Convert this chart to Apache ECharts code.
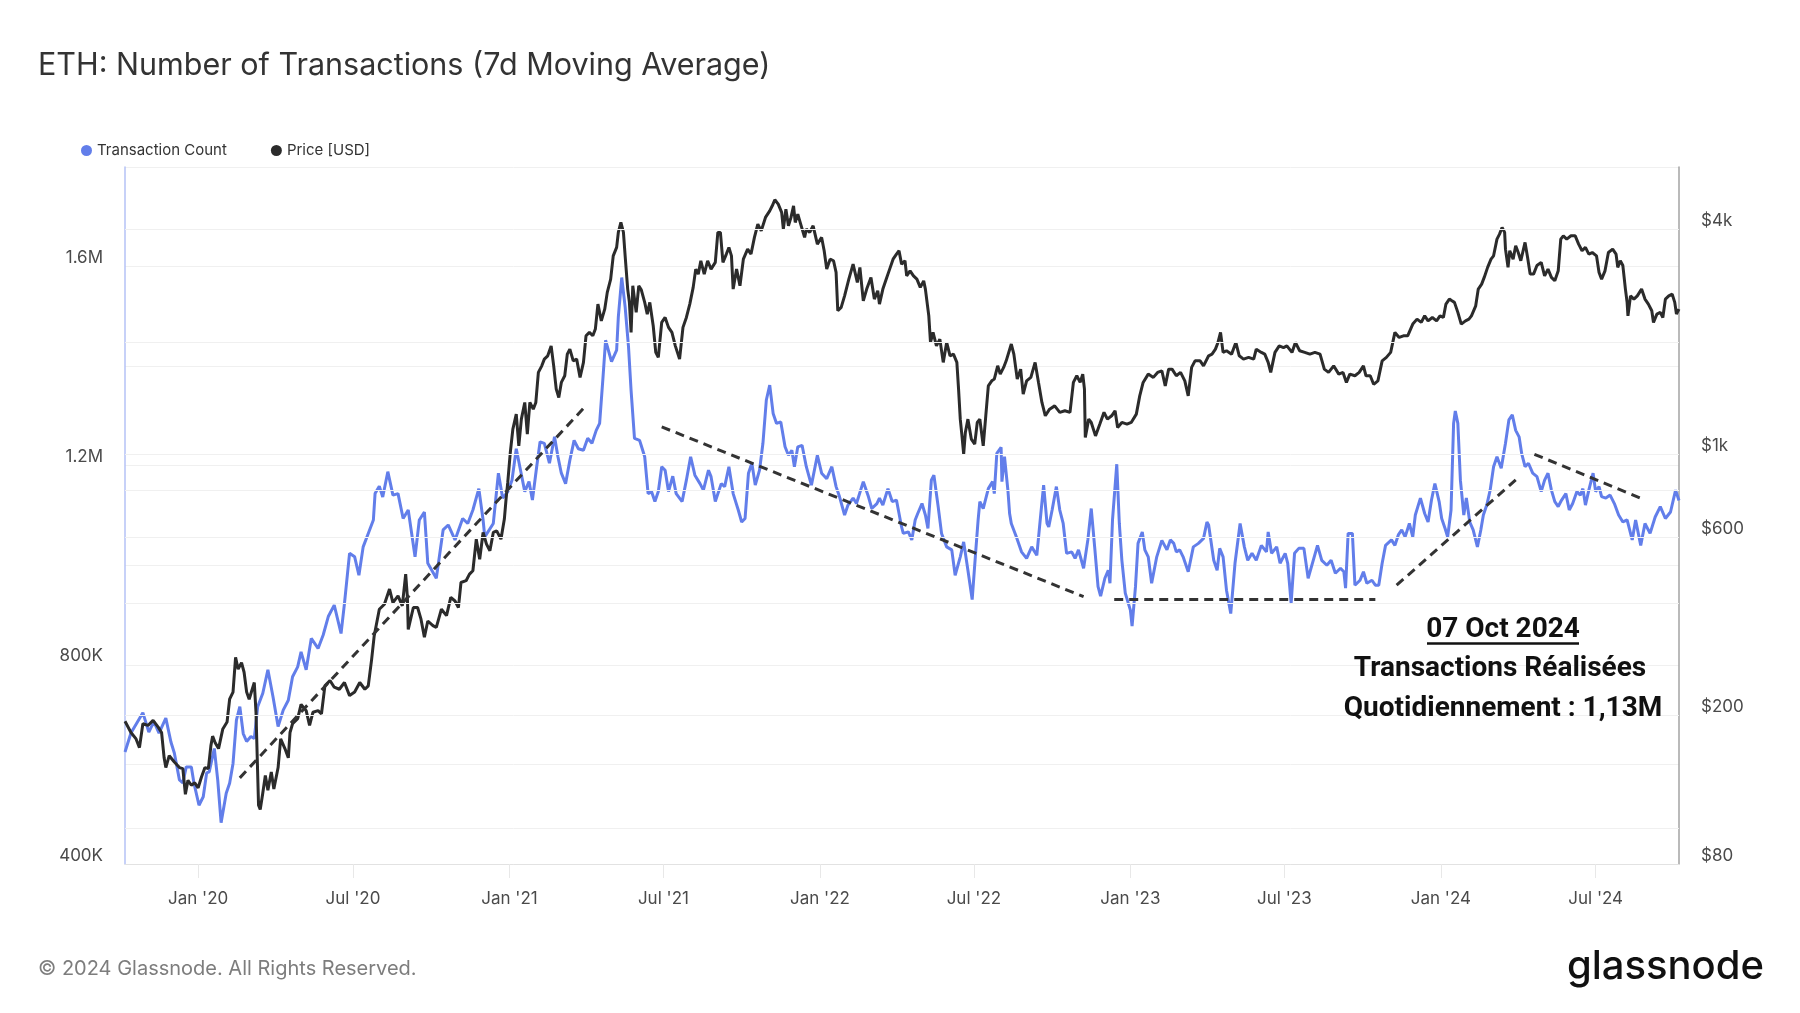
<!DOCTYPE html>
<html><head><meta charset="utf-8">
<script src="https://cdn.jsdelivr.net/npm/echarts@6/dist/echarts.min.js"></script>
<style>html,body{margin:0;padding:0;background:#fff}#main{width:1800px;height:1013px}</style>
</head><body><div id="main"></div>
<script>
// ---- Data ----
const txCount = [
['2019-10-07',625000],['2019-10-14',663000],['2019-10-28',704000],['2019-11-04',665000],['2019-11-10',686000],['2019-11-16',663000],['2019-11-24',693000],['2019-11-30',645000],['2019-12-04',623000],['2019-12-10',569000],['2019-12-14',563000],['2019-12-18',595000],['2019-12-24',595000],['2019-12-27',563000],
['2020-01-02',518000],['2020-01-07',535000],['2020-01-11',583000],['2020-01-14',585000],['2020-01-20',632000],['2020-01-24',569000],['2020-01-28',483000],['2020-02-03',542000],['2020-02-07',562000],['2020-02-11',602000],['2020-02-15',689000],['2020-02-19',716000],['2020-02-23',662000],['2020-02-27',646000],['2020-03-03',656000],['2020-03-07',652000],['2020-03-11',716000],['2020-03-17',743000],['2020-03-23',790000],['2020-03-29',736000],['2020-04-04',676000],['2020-04-10',709000],['2020-04-16',729000],['2020-04-21',776000],['2020-04-27',796000],['2020-05-01',826000],['2020-05-07',790000],['2020-05-13',853000],['2020-05-21',833000],['2020-05-27',860000],['2020-06-02',897000],['2020-06-09',920000],['2020-06-17',863000],['2020-06-21',923000],['2020-06-27',1024000],['2020-07-03',1017000],['2020-07-08',980000],['2020-07-13',1037000],['2020-07-19',1064000],['2020-07-25',1091000],['2020-07-27',1144000],['2020-08-01',1159000],['2020-08-05',1137000],['2020-08-11',1188000],['2020-08-17',1141000],['2020-08-23',1144000],['2020-08-29',1094000],['2020-09-04',1111000],['2020-09-12',1017000],['2020-09-17',1091000],['2020-09-23',1107000],['2020-09-27',1004000],['2020-10-07',974000],['2020-10-15',1071000],['2020-10-21',1081000],['2020-10-29',1051000],['2020-11-07',1094000],['2020-11-13',1084000],['2020-11-19',1111000],['2020-11-26',1154000],['2020-12-01',1091000],['2020-12-03',1057000],['2020-12-13',1084000],['2020-12-19',1185000],['2020-12-24',1135000],['2020-12-30',1148000],
['2021-01-04',1171000],['2021-01-09',1234000],['2021-01-14',1191000],['2021-01-19',1148000],['2021-01-24',1168000],['2021-01-28',1131000],['2021-02-02',1198000],['2021-02-06',1248000],['2021-02-11',1245000],['2021-02-17',1205000],['2021-02-23',1258000],['2021-02-27',1218000],['2021-03-03',1185000],['2021-03-08',1164000],['2021-03-13',1211000],['2021-03-18',1251000],['2021-03-23',1234000],['2021-03-29',1231000],['2021-04-03',1255000],['2021-04-08',1245000],['2021-04-13',1271000],['2021-04-17',1285000],['2021-04-21',1378000],['2021-04-24',1452000],['2021-05-01',1409000],['2021-05-07',1432000],['2021-05-09',1499000],['2021-05-13',1578000],['2021-05-17',1519000],['2021-05-21',1438000],['2021-05-24',1351000],['2021-05-28',1255000],['2021-06-03',1251000],['2021-06-05',1240000],['2021-06-09',1218000],['2021-06-13',1144000],['2021-06-17',1148000],['2021-06-21',1128000],['2021-06-25',1148000],['2021-06-29',1198000],['2021-07-03',1191000],['2021-07-07',1148000],['2021-07-12',1179000],['2021-07-16',1144000],['2021-07-23',1128000],['2021-07-28',1171000],['2021-08-02',1218000],['2021-08-07',1181000],['2021-08-13',1164000],['2021-08-17',1151000],['2021-08-23',1191000],['2021-08-26',1178000],['2021-08-31',1128000],['2021-09-07',1164000],['2021-09-11',1158000],['2021-09-16',1198000],['2021-09-21',1144000],['2021-09-27',1111000],['2021-10-01',1087000],['2021-10-05',1094000],['2021-10-09',1185000],['2021-10-13',1205000],['2021-10-17',1161000],['2021-10-22',1191000],['2021-10-26',1245000],['2021-10-30',1332000],['2021-11-03',1362000],['2021-11-07',1305000],['2021-11-11',1285000],['2021-11-16',1288000],['2021-11-21',1238000],['2021-11-25',1221000],['2021-11-29',1231000],['2021-12-02',1198000],['2021-12-06',1238000],['2021-12-11',1241000],['2021-12-16',1198000],['2021-12-22',1161000],['2021-12-29',1221000],
['2022-01-03',1185000],['2022-01-09',1174000],['2022-01-15',1198000],['2022-01-20',1158000],['2022-01-24',1138000],['2022-01-30',1101000],['2022-02-03',1121000],['2022-02-09',1135000],['2022-02-13',1124000],['2022-02-21',1168000],['2022-02-27',1138000],['2022-03-03',1114000],['2022-03-09',1124000],['2022-03-12',1135000],['2022-03-16',1121000],['2022-03-22',1154000],['2022-03-27',1128000],['2022-04-01',1131000],['2022-04-07',1077000],['2022-04-09',1064000],['2022-04-15',1067000],['2022-04-19',1051000],['2022-04-23',1091000],['2022-04-26',1104000],['2022-05-01',1124000],['2022-05-05',1101000],['2022-05-08',1074000],['2022-05-12',1171000],['2022-05-15',1181000],['2022-05-20',1118000],['2022-05-24',1064000],['2022-05-30',1037000],['2022-06-05',1031000],['2022-06-09',980000],['2022-06-15',1017000],['2022-06-19',1047000],['2022-06-24',990000],['2022-06-29',931000],['2022-07-03',1024000],['2022-07-06',1091000],['2022-07-08',1128000],['2022-07-12',1114000],['2022-07-18',1154000],['2022-07-23',1168000],['2022-07-25',1144000],['2022-07-28',1225000],['2022-08-02',1237000],['2022-08-03',1168000],['2022-08-06',1218000],['2022-08-10',1151000],['2022-08-12',1104000],['2022-08-14',1084000],['2022-08-20',1057000],['2022-08-26',1027000],['2022-09-01',1014000],['2022-09-07',1037000],['2022-09-13',1020000],['2022-09-17',1091000],['2022-09-21',1161000],['2022-09-25',1084000],['2022-09-27',1077000],['2022-10-01',1111000],['2022-10-06',1158000],['2022-10-10',1111000],['2022-10-14',1084000],['2022-10-18',1024000],['2022-10-24',1027000],['2022-10-28',1014000],['2022-11-01',1031000],['2022-11-07',994000],['2022-11-12',1051000],['2022-11-16',1114000],['2022-11-20',1037000],['2022-11-24',957000],['2022-11-27',938000],['2022-12-02',974000],['2022-12-06',990000],['2022-12-08',964000],['2022-12-11',1091000],['2022-12-16',1203000],['2022-12-19',1084000],['2022-12-22',1010000],['2022-12-26',944000],
['2023-01-01',910000],['2023-01-03',878000],['2023-01-07',957000],['2023-01-10',1044000],['2023-01-15',1067000],['2023-01-18',1031000],['2023-01-22',1017000],['2023-01-26',964000],['2023-02-01',1017000],['2023-02-07',1050000],['2023-02-13',1031000],['2023-02-17',1051000],['2023-02-21',1044000],['2023-02-24',1027000],['2023-02-28',1031000],['2023-03-04',1017000],['2023-03-10',987000],['2023-03-16',1037000],['2023-03-22',1044000],['2023-03-28',1054000],['2023-04-01',1087000],['2023-04-03',1081000],['2023-04-09',1010000],['2023-04-13',990000],['2023-04-16',1034000],['2023-04-20',1017000],['2023-04-24',950000],['2023-04-29',903000],['2023-05-04',1004000],['2023-05-10',1084000],['2023-05-15',1037000],['2023-05-19',1010000],['2023-05-24',1024000],['2023-05-29',1010000],['2023-06-04',1040000],['2023-06-10',1027000],['2023-06-12',1067000],['2023-06-16',1024000],['2023-06-22',1037000],['2023-06-26',1004000],['2023-07-02',1024000],['2023-07-05',1004000],['2023-07-09',924000],['2023-07-13',1024000],['2023-07-18',1034000],['2023-07-24',1034000],['2023-07-29',974000],['2023-08-04',1010000],['2023-08-09',1040000],['2023-08-14',1010000],['2023-08-20',1000000],['2023-08-25',1010000],['2023-08-30',984000],['2023-09-05',994000],['2023-09-09',987000],['2023-09-11',954000],['2023-09-14',1064000],['2023-09-19',1064000],['2023-09-22',960000],['2023-09-28',970000],['2023-10-02',987000],['2023-10-06',964000],['2023-10-12',970000],['2023-10-16',960000],['2023-10-20',960000],['2023-10-24',1004000],['2023-10-28',1040000],['2023-11-04',1051000],['2023-11-08',1040000],['2023-11-12',1061000],['2023-11-16',1071000],['2023-11-20',1057000],['2023-11-25',1084000],['2023-11-29',1057000],['2023-12-02',1101000],['2023-12-08',1135000],['2023-12-13',1104000],['2023-12-17',1087000],['2023-12-21',1131000],['2023-12-25',1164000],['2023-12-30',1128000],
['2024-01-02',1094000],['2024-01-06',1074000],['2024-01-09',1057000],['2024-01-13',1111000],['2024-01-16',1285000],['2024-01-18',1310000],['2024-01-21',1285000],['2024-01-24',1171000],['2024-01-28',1101000],['2024-01-31',1135000],['2024-02-04',1087000],['2024-02-08',1071000],['2024-02-13',1037000],['2024-02-17',1071000],['2024-02-20',1101000],['2024-02-24',1121000],['2024-02-28',1151000],['2024-03-03',1198000],['2024-03-07',1218000],['2024-03-12',1195000],['2024-03-17',1245000],['2024-03-21',1292000],['2024-03-25',1302000],['2024-03-29',1271000],['2024-04-02',1258000],['2024-04-05',1225000],['2024-04-09',1198000],['2024-04-13',1205000],['2024-04-18',1185000],['2024-04-23',1178000],['2024-04-28',1148000],['2024-05-02',1171000],['2024-05-06',1185000],['2024-05-10',1151000],['2024-05-14',1128000],['2024-05-18',1118000],['2024-05-22',1131000],['2024-05-27',1144000],['2024-05-31',1111000],['2024-06-04',1124000],['2024-06-09',1148000],['2024-06-13',1141000],['2024-06-16',1154000],['2024-06-19',1121000],['2024-06-23',1151000],['2024-06-28',1185000],['2024-07-01',1148000],['2024-07-05',1158000],['2024-07-08',1138000],['2024-07-13',1135000],['2024-07-18',1141000],['2024-07-23',1124000],['2024-07-28',1101000],['2024-08-02',1087000],['2024-08-07',1091000],['2024-08-13',1051000],['2024-08-17',1091000],['2024-08-23',1040000],['2024-08-28',1084000],['2024-09-03',1064000],['2024-09-09',1097000],['2024-09-15',1118000],['2024-09-21',1094000],['2024-09-27',1107000],['2024-10-03',1151000],['2024-10-07',1130000]
];

const priceUsd = [
['2019-10-07',193],['2019-10-14',180],['2019-10-20',173],['2019-10-24',164],['2019-10-28',190],['2019-11-03',188],['2019-11-09',194],['2019-11-15',186],['2019-11-19',180],['2019-11-22',154],['2019-11-24',145],['2019-11-28',156],['2019-12-04',150],['2019-12-10',145],['2019-12-14',144],['2019-12-17',123],['2019-12-20',134],['2019-12-24',130],['2019-12-28',132],
['2020-01-01',128],['2020-01-05',137],['2020-01-09',145],['2020-01-13',144],['2020-01-16',166],['2020-01-18',176],['2020-01-21',169],['2020-01-25',163],['2020-01-30',184],['2020-02-04',192],['2020-02-07',221],['2020-02-11',231],['2020-02-14',286],['2020-02-17',266],['2020-02-21',277],['2020-02-24',261],['2020-02-27',231],['2020-03-01',221],['2020-03-07',245],['2020-03-09',204],['2020-03-12',115],['2020-03-14',112],['2020-03-17',124],['2020-03-20',138],['2020-03-23',126],['2020-03-27',141],['2020-03-30',127],['2020-04-04',145],['2020-04-07',173],['2020-04-12',163],['2020-04-16',154],['2020-04-18',180],['2020-04-21',190],['2020-04-27',196],['2020-05-01',214],['2020-05-07',206],['2020-05-11',188],['2020-05-15',204],['2020-05-21',206],['2020-05-25',202],['2020-05-29',240],['2020-06-04',248],['2020-06-09',238],['2020-06-15',235],['2020-06-21',245],['2020-06-27',226],['2020-07-03',231],['2020-07-09',245],['2020-07-15',235],['2020-07-19',240],['2020-07-23',283],['2020-07-26',327],['2020-08-01',385],['2020-08-07',397],['2020-08-13',436],['2020-08-17',401],['2020-08-23',418],['2020-08-28',393],['2020-09-01',478],['2020-09-03',414],['2020-09-04',340],['2020-09-10',389],['2020-09-15',389],['2020-09-19',362],['2020-09-23',324],['2020-09-27',358],['2020-10-03',348],['2020-10-07',344],['2020-10-13',385],['2020-10-19',370],['2020-10-24',414],['2020-10-29',405],['2020-11-02',389],['2020-11-05',454],['2020-11-11',459],['2020-11-15',478],['2020-11-19',488],['2020-11-23',593],['2020-11-27',524],['2020-12-01',618],['2020-12-05',575],['2020-12-09',552],['2020-12-13',618],['2020-12-17',624],['2020-12-22',593],['2020-12-26',671],['2020-12-28',759],['2020-12-30',841],
['2021-01-02',1012],['2021-01-05',1169],['2021-01-09',1282],['2021-01-12',1054],['2021-01-15',1243],['2021-01-19',1378],['2021-01-22',1133],['2021-01-25',1378],['2021-01-29',1322],['2021-02-01',1378],['2021-02-04',1658],['2021-02-08',1727],['2021-02-11',1800],['2021-02-15',1837],['2021-02-19',1953],['2021-02-22',1727],['2021-02-25',1496],['2021-02-28',1421],['2021-03-03',1559],['2021-03-07',1624],['2021-03-10',1856],['2021-03-13',1914],['2021-03-17',1781],['2021-03-21',1800],['2021-03-25',1608],['2021-03-29',1764],['2021-04-01',2078],['2021-04-05',2122],['2021-04-09',2078],['2021-04-12',2166],['2021-04-15',2527],['2021-04-19',2279],['2021-04-23',2449],['2021-04-26',2716],['2021-04-30',2948],['2021-05-03',3403],['2021-05-07',3584],['2021-05-09',3931],['2021-05-12',4181],['2021-05-15',3931],['2021-05-17',3403],['2021-05-20',2772],['2021-05-22',2554],['2021-05-24',2122],['2021-05-26',2829],['2021-05-30',2401],['2021-06-02',2829],['2021-06-05',2760],['2021-06-09',2554],['2021-06-12',2376],['2021-06-15',2554],['2021-06-19',2211],['2021-06-22',1876],['2021-06-25',1819],['2021-06-29',2257],['2021-07-03',2327],['2021-07-07',2189],['2021-07-11',2122],['2021-07-15',1953],['2021-07-20',1800],['2021-07-24',2189],['2021-07-28',2327],['2021-08-01',2527],['2021-08-05',2801],['2021-08-08',3135],['2021-08-11',3040],['2021-08-14',3301],['2021-08-18',3040],['2021-08-22',3301],['2021-08-26',3135],['2021-08-31',3268],['2021-09-03',3931],['2021-09-06',3931],['2021-09-09',3268],['2021-09-13',3440],['2021-09-16',3584],['2021-09-19',3403],['2021-09-21',2772],['2021-09-25',3135],['2021-09-29',2829],['2021-10-03',3334],['2021-10-08',3546],['2021-10-12',3440],['2021-10-16',3812],['2021-10-20',4138],['2021-10-24',3970],['2021-10-29',4312],['2021-11-03',4491],['2021-11-06',4633],['2021-11-09',4808],['2021-11-13',4681],['2021-11-17',4447],['2021-11-19',4013],['2021-11-22',4539],['2021-11-25',4095],['2021-11-28',4312],['2021-12-01',4633],['2021-12-03',4181],['2021-12-06',4401],['2021-12-10',4095],['2021-12-14',3812],['2021-12-16',4013],['2021-12-20',3931],['2021-12-24',4095],['2021-12-29',3658],
['2022-01-03',3812],['2022-01-06',3511],['2022-01-09',3135],['2022-01-13',3334],['2022-01-17',3301],['2022-01-20',3072],['2022-01-22',2425],['2022-01-26',2476],['2022-01-30',2659],['2022-02-04',2948],['2022-02-09',3233],['2022-02-14',2888],['2022-02-17',3169],['2022-02-21',2579],['2022-02-25',2772],['2022-03-02',2979],['2022-03-06',2606],['2022-03-10',2743],['2022-03-12',2527],['2022-03-16',2772],['2022-03-20',2948],['2022-03-24',3135],['2022-03-28',3334],['2022-04-01',3440],['2022-04-04',3511],['2022-04-07',3233],['2022-04-11',3301],['2022-04-13',3007],['2022-04-17',3102],['2022-04-21',3007],['2022-04-25',2948],['2022-04-29',2801],['2022-05-03',2917],['2022-05-05',2772],['2022-05-09',2351],['2022-05-11',1995],['2022-05-14',2122],['2022-05-18',1953],['2022-05-22',2036],['2022-05-26',1764],['2022-05-30',1995],['2022-06-03',1837],['2022-06-07',1856],['2022-06-11',1764],['2022-06-13',1496],['2022-06-15',1243],['2022-06-17',1121],['2022-06-19',1002],['2022-06-21',1145],['2022-06-24',1243],['2022-06-28',1099],['2022-07-02',1066],['2022-07-05',1218],['2022-07-08',1243],['2022-07-12',1054],['2022-07-15',1269],['2022-07-18',1526],['2022-07-22',1574],['2022-07-25',1591],['2022-07-29',1727],['2022-08-01',1641],['2022-08-05',1710],['2022-08-08',1781],['2022-08-14',1975],['2022-08-17',1856],['2022-08-21',1591],['2022-08-25',1692],['2022-08-28',1450],['2022-09-01',1574],['2022-09-06',1608],['2022-09-11',1764],['2022-09-15',1559],['2022-09-19',1378],['2022-09-23',1269],['2022-09-28',1322],['2022-10-04',1349],['2022-10-10',1296],['2022-10-16',1309],['2022-10-22',1296],['2022-10-26',1559],['2022-10-30',1624],['2022-11-03',1559],['2022-11-06',1641],['2022-11-08',1496],['2022-11-09',1110],['2022-11-13',1243],['2022-11-16',1218],['2022-11-21',1121],['2022-11-26',1205],['2022-12-01',1296],['2022-12-05',1243],['2022-12-10',1269],['2022-12-14',1309],['2022-12-17',1181],['2022-12-22',1218],['2022-12-28',1205],
['2023-01-02',1218],['2023-01-08',1282],['2023-01-12',1435],['2023-01-16',1559],['2023-01-22',1641],['2023-01-28',1608],['2023-02-02',1658],['2023-02-07',1675],['2023-02-11',1526],['2023-02-15',1692],['2023-02-19',1692],['2023-02-24',1624],['2023-03-01',1658],['2023-03-06',1574],['2023-03-10',1435],['2023-03-14',1710],['2023-03-18',1781],['2023-03-24',1781],['2023-03-28',1727],['2023-04-03',1837],['2023-04-07',1856],['2023-04-11',1914],['2023-04-14',1995],['2023-04-17',2122],['2023-04-20',1876],['2023-04-24',1895],['2023-04-30',1856],['2023-05-05',1995],['2023-05-09',1837],['2023-05-14',1800],['2023-05-20',1819],['2023-05-26',1800],['2023-05-29',1914],['2023-06-04',1876],['2023-06-08',1856],['2023-06-12',1764],['2023-06-15',1658],['2023-06-20',1876],['2023-06-25',1953],['2023-06-30',1933],['2023-07-04',1953],['2023-07-10',1876],['2023-07-14',1995],['2023-07-19',1895],['2023-07-25',1876],['2023-07-31',1856],['2023-08-06',1876],['2023-08-12',1856],['2023-08-17',1692],['2023-08-22',1658],['2023-08-28',1727],['2023-09-03',1641],['2023-09-08',1658],['2023-09-12',1559],['2023-09-16',1641],['2023-09-22',1624],['2023-09-27',1658],['2023-10-02',1727],['2023-10-05',1624],['2023-10-10',1624],['2023-10-14',1541],['2023-10-19',1574],['2023-10-24',1781],['2023-10-29',1819],['2023-11-03',1876],['2023-11-08',2122],['2023-11-13',2057],['2023-11-18',2078],['2023-11-23',2078],['2023-11-29',2234],['2023-12-04',2303],['2023-12-09',2257],['2023-12-13',2351],['2023-12-17',2279],['2023-12-22',2327],['2023-12-27',2279],['2023-12-31',2351],
['2024-01-04',2327],['2024-01-07',2527],['2024-01-11',2606],['2024-01-14',2579],['2024-01-17',2554],['2024-01-21',2401],['2024-01-25',2234],['2024-01-30',2279],['2024-02-03',2303],['2024-02-06',2351],['2024-02-11',2500],['2024-02-14',2772],['2024-02-18',2858],['2024-02-21',2979],['2024-02-25',3169],['2024-02-29',3334],['2024-03-03',3403],['2024-03-07',3773],['2024-03-10',3890],['2024-03-13',4054],['2024-03-16',3931],['2024-03-17',3546],['2024-03-20',3169],['2024-03-22',3511],['2024-03-26',3334],['2024-03-29',3620],['2024-04-01',3473],['2024-04-04',3301],['2024-04-09',3696],['2024-04-12',3368],['2024-04-15',3040],['2024-04-19',3040],['2024-04-23',3205],['2024-04-28',3268],['2024-05-02',3007],['2024-05-06',3135],['2024-05-10',2979],['2024-05-14',2917],['2024-05-18',3102],['2024-05-21',3773],['2024-05-24',3850],['2024-05-28',3773],['2024-06-02',3850],['2024-06-07',3850],['2024-06-11',3658],['2024-06-15',3511],['2024-06-19',3584],['2024-06-23',3440],['2024-06-27',3473],['2024-07-02',3403],['2024-07-05',3072],['2024-07-08',2948],['2024-07-12',3102],['2024-07-16',3473],['2024-07-21',3546],['2024-07-25',3440],['2024-07-27',3169],['2024-07-30',3301],['2024-08-02',3205],['2024-08-05',2772],['2024-08-07',2554],['2024-08-08',2351],['2024-08-11',2659],['2024-08-15',2606],['2024-08-19',2659],['2024-08-24',2772],['2024-08-28',2606],['2024-09-01',2527],['2024-09-05',2425],['2024-09-07',2257],['2024-09-11',2376],['2024-09-15',2401],['2024-09-18',2327],['2024-09-21',2606],['2024-09-25',2659],['2024-09-29',2687],['2024-10-02',2554],['2024-10-04',2376],['2024-10-07',2449]
];

const xRange = ['2019-10-07', '2024-10-07'];
const xTickDates = ['2020-01-01','2020-07-01','2021-01-01','2021-07-01','2022-01-01','2022-07-01','2023-01-01','2023-07-01','2024-01-01','2024-07-01'];
const leftTickValues = [400000, 800000, 1200000, 1600000];
const rightTickValues = [80, 200, 600, 1000, 4000];
const rightGridValues = [100, 200, 400, 600, 800, 1000, 2000, 4000];
const trendArrows = [
  [['2020-02-19', 573000], ['2021-03-30', 1317000]],
  [['2021-06-29', 1278000], ['2022-11-07', 937000]],
  [['2022-12-13', 932000], ['2023-10-16', 932000]],
  [['2023-11-10', 960000], ['2024-04-01', 1176000]],
  [['2024-04-20', 1223000], ['2024-08-24', 1134000]]
];
const noteLines = ['07 Oct 2024', 'Transactions Réalisées', 'Quotidiennement : 1,13M'];

// ---- helpers ----
function ts(s) { const p = s.split('-').map(Number); return new Date(p[0], p[1] - 1, p[2]).getTime(); }
const MONTHS = ['Jan','Feb','Mar','Apr','May','Jun','Jul','Aug','Sep','Oct','Nov','Dec'];
const BLUE = '#627EEA', DARK = '#2b2b2b';
const FONT = 'Inter, "Noto Sans", sans-serif';
const xTicks = xTickDates.map(ts);

const chart = echarts.init(document.getElementById('main'), null, { renderer: 'canvas' });
const option = {
  animation: false,
  backgroundColor: '#ffffff',
  title: {
    text: 'ETH: Number of Transactions (7d Moving Average)',
    left: 33, top: 45,
    textStyle: { fontFamily: FONT, fontSize: 30.5, fontWeight: 400, color: '#333333' }
  },
  legend: {
    data: ['Transaction Count', 'Price [USD]'],
    left: 76, top: 138,
    icon: 'circle', itemWidth: 11, itemHeight: 11, itemGap: 44,
    textStyle: { fontFamily: FONT, fontSize: 15, color: '#333333' }
  },
  grid: { left: 125, right: 121, top: 167, bottom: 149, containLabel: false },
  xAxis: {
    type: 'value',
    min: ts(xRange[0]), max: ts(xRange[1]),
    axisLine: { show: true, onZero: false, lineStyle: { color: '#e2e2e2', width: 1 } },
    axisTick: { show: true, customValues: xTicks, length: 14, lineStyle: { color: '#e8e8e8' } },
    axisLabel: {
      customValues: xTicks, margin: 26,
      fontFamily: FONT, fontSize: 17, color: '#4a4a4a',
      formatter: function (v) { const d = new Date(v); return MONTHS[d.getMonth()] + " '" + String(d.getFullYear()).slice(2); }
    },
    splitLine: { show: false }
  },
  yAxis: [
    {
      type: 'value', position: 'left',
      min: 400000, max: 1800000, interval: 200000,
      axisLine: { show: true, lineStyle: { color: '#b4c2f6', width: 1.5 } },
      axisTick: { show: false },
      axisLabel: {
        margin: 22, fontFamily: FONT, fontSize: 17, color: '#4a4a4a', verticalAlign: 'bottom',
        formatter: function (v) {
          if (leftTickValues.indexOf(v) < 0) return '';
          return v >= 1e6 ? (v / 1e6) + 'M' : (v / 1e3) + 'K';
        }
      },
      splitLine: { show: true, lineStyle: { color: '#f0f0f0', width: 1 } }
    },
    {
      type: 'log', logBase: 10, position: 'right',
      min: 80, max: 5885,
      axisLine: { show: true, lineStyle: { color: '#a3a3a3', width: 1.5 } },
      axisTick: { show: false },
      axisLabel: {
        customValues: rightTickValues,
        margin: 22, fontFamily: FONT, fontSize: 17, color: '#4a4a4a', verticalAlign: 'bottom',
        formatter: function (v) { return v >= 1000 ? '$' + (v / 1000) + 'k' : '$' + v; }
      },
      splitLine: { show: false }
    }
  ],
  series: [
    {
      name: 'grid-right', type: 'line', yAxisIndex: 1, data: [], z: 1, silent: true,
      markLine: {
        silent: true, symbol: ['none', 'none'], animation: false,
        label: { show: false },
        lineStyle: { color: '#f0f0f0', width: 1, type: 'solid' },
        emphasis: { disabled: true },
        data: rightGridValues.map(function (v) { return { yAxis: v }; })
      }
    },
    {
      name: 'Transaction Count', type: 'line', yAxisIndex: 0, z: 3,
      data: txCount.map(function (p) { return [ts(p[0]), p[1]]; }),
      showSymbol: false, symbol: 'none',
      lineStyle: { color: BLUE, width: 3 }, itemStyle: { color: BLUE }
    },
    {
      name: 'Price [USD]', type: 'line', yAxisIndex: 1, z: 4,
      data: priceUsd.map(function (p) { return [ts(p[0]), p[1]]; }),
      showSymbol: false, symbol: 'none',
      lineStyle: { color: DARK, width: 3 }, itemStyle: { color: DARK }
    },
    {
      name: 'arrows', type: 'line', yAxisIndex: 0, data: [], z: 6, silent: true,
      markLine: {
        silent: true, animation: false,
        symbol: ['none', 'arrow'], symbolSize: [0, 13],
        label: { show: false },
        lineStyle: { color: '#333333', width: 3, type: [9, 6], opacity: 1 },
        emphasis: { disabled: true },
        data: trendArrows.map(function (a) {
          return [{ coord: [ts(a[0][0]), a[0][1]] }, { coord: [ts(a[1][0]), a[1][1]] }];
        })
      }
    }
  ],
  graphic: [
    { type: 'text', x: 1503, y: 630.3, z: 10,
      style: { text: noteLines[0], font: 'bold 28px Roboto', fill: '#111111', align: 'center', verticalAlign: 'middle', textAlign: 'center', textVerticalAlign: 'middle' } },
    { type: 'rect', z: 10, shape: { x: 1427, y: 642.3, width: 152, height: 2.5 }, style: { fill: '#111111' } },
    { type: 'text', x: 1500, y: 669.3, z: 10,
      style: { text: noteLines[1], font: 'bold 28px Roboto', fill: '#111111', align: 'center', verticalAlign: 'middle', textAlign: 'center', textVerticalAlign: 'middle' } },
    { type: 'text', x: 1503, y: 709.3, z: 10,
      style: { text: noteLines[2], font: 'bold 28px Roboto', fill: '#111111', align: 'center', verticalAlign: 'middle', textAlign: 'center', textVerticalAlign: 'middle' } },
    { type: 'text', x: 38, y: 969,
      style: { text: '© 2024 Glassnode. All Rights Reserved.', font: '20px Inter', fill: '#7d7d7d', verticalAlign: 'middle', textVerticalAlign: 'middle' } },
    { type: 'text', x: 1764, y: 967,
      style: { text: 'glassnode', font: '500 40px Inter', fill: '#111111', align: 'right', verticalAlign: 'middle', textAlign: 'right', textVerticalAlign: 'middle' } }
  ]
};
chart.setOption(option);
</script>
</body></html>
